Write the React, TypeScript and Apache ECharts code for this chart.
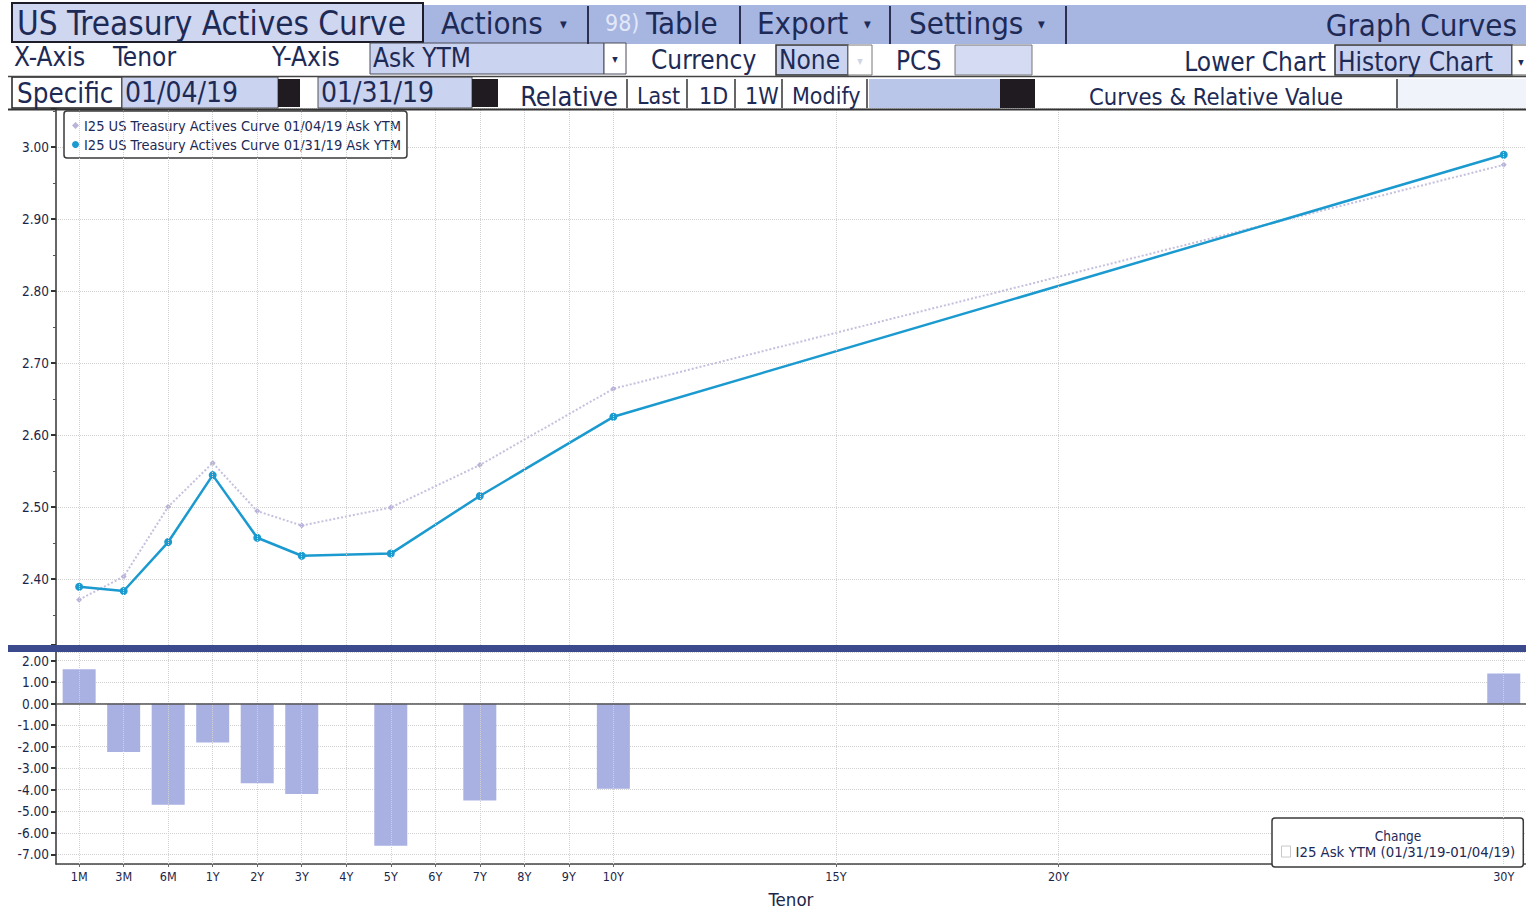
import React, { useEffect, useRef } from "react";
import * as echarts from "echarts";

// ---------- data ----------
const tenorLabels = ["1M", "3M", "6M", "1Y", "2Y", "3Y", "4Y", "5Y", "6Y", "7Y", "8Y", "9Y", "10Y", "15Y", "20Y", "30Y"];
const tenorPositions = [-2, -1, 0, 1, 2, 3, 4, 5, 6, 7, 8, 9, 10, 15, 20, 30];

const curveTenors = ["1M", "3M", "6M", "1Y", "2Y", "3Y", "5Y", "7Y", "10Y", "30Y"];
const curveJan04 = [2.371, 2.403, 2.5, 2.561, 2.494, 2.474, 2.499, 2.558, 2.664, 2.975];
const curveJan31 = [2.389, 2.383, 2.451, 2.544, 2.457, 2.432, 2.435, 2.515, 2.625, 2.989];
const changeBp = [1.6, -2.25, -4.7, -1.8, -3.7, -4.2, -6.6, -4.5, -3.95, 1.4];

const seriesJan04Name = "I25 US Treasury Actives Curve 01/04/19 Ask YTM";
const seriesJan31Name = "I25 US Treasury Actives Curve 01/31/19 Ask YTM";
const changeName = "I25 Ask YTM (01/31/19-01/04/19)";

// ---------- style ----------
const F = '"DejaVu Sans Condensed", "DejaVu Sans", sans-serif';
const NAVY = "#1d2a56";
const LAV = "#cad3ef";

const pos = (t: string) => tenorPositions[tenorLabels.indexOf(t)];

function rect(x: number, y: number, w: number, h: number, fill: string, stroke?: string, lw = 1) {
  return {
    type: "rect",
    silent: true,
    z: 100,
    shape: { x, y, width: w, height: h },
    style: { fill, stroke: stroke || "none", lineWidth: stroke ? lw : 0 },
  };
}
function line(x1: number, y1: number, x2: number, y2: number, stroke: string, lw = 1) {
  return { type: "line", silent: true, z: 101, shape: { x1, y1, x2, y2 }, style: { stroke, lineWidth: lw } };
}
function txt(text: string, x: number, y: number, size: number, align = "left", fill = NAVY) {
  return {
    type: "text",
    silent: true,
    z: 102,
    x,
    y,
    style: { text, fontSize: size, fontFamily: F, fill, align, verticalAlign: "middle" },
  };
}

function toolbar() {
  const g: any[] = [];
  // row 1
  g.push(rect(424, 5, 1102, 39, "#a7b5e1"));
  g.push(rect(12, 3, 411, 39, "#cfd6f0", "#1d1d2a", 2));
  g.push(txt("US Treasury Actives Curve", 17, 23, 33));
  g.push(txt("Actions", 441, 23, 31));
  g.push(txt("▾", 560, 24, 15));
  [588, 740, 890, 1066].forEach((x) => g.push(line(x, 6, x, 44, "#2b3050", 2)));
  g.push(txt("98)", 605, 23, 23, "left", "#e2e8f8"));
  g.push(txt("Table", 646, 23, 31));
  g.push(txt("Export", 757, 23, 31));
  g.push(txt("▾", 864, 24, 15));
  g.push(txt("Settings", 909, 23, 31));
  g.push(txt("▾", 1038, 24, 15));
  g.push(txt("Graph Curves", 1517, 25, 31, "right"));
  // row 2
  g.push(txt("X-Axis", 14, 57, 26));
  g.push(txt("Tenor", 113, 57, 26));
  g.push(txt("Y-Axis", 272, 57, 26));
  g.push(rect(370, 43, 234, 31, LAV, "#4a4a5a", 1));
  g.push(txt("Ask YTM", 373, 58, 26));
  g.push(rect(604, 43, 22, 31, "#ffffff", "#4a4a5a", 1));
  g.push(txt("▾", 615, 59, 12, "center"));
  g.push(txt("Currency", 651, 60, 26));
  g.push(rect(776, 45, 72, 30, LAV, "#333", 1.5));
  g.push(txt("None", 779, 60, 26));
  g.push(rect(848, 45, 24, 30, "#ffffff", "#777", 1));
  g.push(txt("▾", 860, 61, 12, "center", "#cfd4e6"));
  g.push(txt("PCS", 896, 61, 26));
  g.push(rect(955, 45, 77, 30, "#d4dbf2", "#777", 1));
  g.push(txt("Lower Chart", 1326, 62, 26, "right"));
  g.push(rect(1335, 45, 177, 30, LAV, "#333", 1.5));
  g.push(txt("History Chart", 1338, 62, 26));
  g.push(rect(1512, 45, 16, 30, "#ffffff", "#555", 1));
  g.push(txt("▾", 1521, 62, 12, "center"));
  g.push(line(8, 76.5, 1526, 76.5, "#444", 1.5));
  // row 3
  g.push(rect(12, 77, 110, 31, "#ffffff", "#222", 1.5));
  g.push(txt("Specific", 17, 93, 27.5));
  g.push(rect(122, 77, 156, 31, LAV, "#555", 1));
  g.push(txt("01/04/19", 125, 92, 28));
  g.push(rect(278, 79, 22, 28, "#1f1b20"));
  g.push(rect(318, 77, 154, 31, LAV, "#555", 1));
  g.push(txt("01/31/19", 321, 92, 28));
  g.push(rect(472, 79, 26, 28, "#1f1b20"));
  g.push(txt("Relative", 618, 96, 27, "right"));
  [627, 687, 735, 782, 867].forEach((x) => g.push(line(x, 79, x, 108, "#333", 1.5)));
  g.push(txt("Last", 637, 96, 23));
  g.push(txt("1D", 699, 96, 23));
  g.push(txt("1W", 745, 96, 23));
  g.push(txt("Modify", 792, 96, 23));
  g.push(rect(869, 79, 131, 29, "#b9c6ea"));
  g.push(rect(1000, 79, 35, 29, "#1f1b20"));
  g.push(txt("Curves & Relative Value", 1089, 97, 23.6));
  g.push(line(1397, 79, 1397, 108, "#333", 1.5));
  g.push(rect(1398, 79, 128, 29, "#f1f3fa"));
  g.push(line(8, 109.5, 1526, 109.5, "#333", 2));
  return g;
}

export default function App() {
  const ref = useRef<HTMLDivElement>(null);

  useEffect(() => {
    if (!ref.current) return;
    const chart = echarts.init(ref.current, null, { renderer: "svg" });

    const xMin = -2.52;
    const xMax = 30.5;
    const gridLine = { color: "#d2d2d2", type: "dotted" as const, width: 1 };
    const yLabelStyle = { color: "#1c2648", fontSize: 13.5, fontFamily: F };
    const xLabelStyle = { color: "#1c2648", fontSize: 12.5, fontFamily: F };

    const vLines = tenorPositions.map((v) => ({ xAxis: v, lineStyle: gridLine }));

    const option: any = {
      animation: false,
      backgroundColor: "#ffffff",
      textStyle: { fontFamily: F },
      grid: [
        { left: 56, right: 0, top: 108, bottom: 910 - 645 },
        { left: 56, right: 0, top: 652, bottom: 910 - 866 },
      ],
      xAxis: [
        {
          gridIndex: 0,
          type: "value",
          min: xMin,
          max: xMax,
          axisLine: { show: false },
          axisTick: { show: false },
          axisLabel: { show: false },
          splitLine: { show: false },
        },
        {
          gridIndex: 1,
          type: "value",
          min: xMin,
          max: xMax,
          axisLine: { show: true, onZero: false, lineStyle: { color: "#444", width: 1.5 } },
          axisTick: { show: true, customValues: tenorPositions, length: 3, lineStyle: { color: "#666" } },
          axisLabel: {
            ...xLabelStyle,
            margin: 6,
            customValues: tenorPositions,
            formatter: (v: number) => {
              const i = tenorPositions.indexOf(Math.round(v));
              return i >= 0 ? tenorLabels[i] : "";
            },
          },
          splitLine: { show: false },
          name: "Tenor",
          nameLocation: "middle",
          nameGap: 26,
          nameTextStyle: { color: "#1c2648", fontSize: 18.5, fontFamily: F },
        },
      ],
      yAxis: [
        {
          gridIndex: 0,
          type: "value",
          min: 2.308,
          max: 3.054,
          splitNumber: 8,
          axisLine: { show: true, onZero: false, lineStyle: { color: "#333", width: 1.5 } },
          axisTick: { show: true, length: 5, lineStyle: { color: "#333", width: 2 } },
          minorTick: { show: true, splitNumber: 2, length: 3, lineStyle: { color: "#555" } },
          axisLabel: {
            ...yLabelStyle,
            margin: 7,
            showMinLabel: false,
            showMaxLabel: false,
            formatter: (v: number) => v.toFixed(2),
          },
          splitLine: { show: true, lineStyle: gridLine },
        },
        {
          gridIndex: 1,
          type: "value",
          min: -7.45,
          max: 2.4,
          splitNumber: 10,
          axisLine: { show: true, onZero: false, lineStyle: { color: "#333", width: 1.5 } },
          axisTick: { show: true, length: 5, lineStyle: { color: "#333", width: 2 } },
          axisLabel: {
            ...yLabelStyle,
            margin: 7,
            showMinLabel: false,
            showMaxLabel: false,
            formatter: (v: number) => v.toFixed(2),
          },
          splitLine: { show: true, lineStyle: gridLine },
        },
      ],
      legend: [
        {
          left: 64,
          top: 111,
          orient: "vertical",
          backgroundColor: "#ffffff",
          borderColor: "#3a3a3a",
          borderWidth: 1.5,
          borderRadius: 3,
          padding: [7, 6, 6, 8],
          itemGap: 4,
          itemWidth: 7,
          itemHeight: 7,
          textStyle: { color: NAVY, fontSize: 14.5, fontFamily: F },
          data: [
            { name: seriesJan04Name, icon: "diamond" },
            { name: seriesJan31Name, icon: "circle" },
          ],
          selectedMode: false,
        },
        {
          left: 1272,
          top: 818,
          backgroundColor: "#ffffff",
          borderColor: "#3a3a3a",
          borderWidth: 1.5,
          borderRadius: 3,
          padding: [26, 8, 8, 9],
          itemWidth: 9,
          itemHeight: 11,
          itemGap: 4,
          textStyle: { color: NAVY, fontSize: 14.8, fontFamily: F },
          data: [
            {
              name: changeName,
              icon: "rect",
              itemStyle: { color: "#ffffff", borderColor: "#c8c8c8", borderWidth: 1 },
            },
          ],
          selectedMode: false,
        },
      ],
      graphic: [
        ...toolbar(),
        rect(8, 645, 1518, 7, "#3b4a8c"),
        txt("Change", 1398, 836, 13.5, "center"),
      ],
      series: [
        {
          name: seriesJan04Name,
          type: "line",
          xAxisIndex: 0,
          yAxisIndex: 0,
          z: 2,
          data: curveTenors.map((t, i) => [pos(t), curveJan04[i]]),
          symbol: "diamond",
          symbolSize: 6,
          itemStyle: { color: "#b9b4d9" },
          lineStyle: { color: "#c4c0de", width: 2, type: "dotted" },
          markLine: {
            silent: true,
            symbol: ["none", "none"],
            label: { show: false },
            data: vLines,
          },
        },
        {
          name: seriesJan31Name,
          type: "line",
          xAxisIndex: 0,
          yAxisIndex: 0,
          z: 4,
          data: curveTenors.map((t, i) => [pos(t), curveJan31[i]]),
          symbol: "circle",
          symbolSize: 8,
          itemStyle: { color: "#1b9ad0" },
          lineStyle: { color: "#1b9ad0", width: 2.5 },
        },
        {
          name: changeName,
          type: "bar",
          xAxisIndex: 1,
          yAxisIndex: 1,
          barWidth: 33,
          data: curveTenors.map((t, i) => [pos(t), changeBp[i]]),
          itemStyle: { color: "#a9b1e2" },
          markLine: {
            silent: true,
            symbol: ["none", "none"],
            label: { show: false },
            data: [...vLines, { yAxis: 0, lineStyle: { color: "#555", width: 1.5, type: "solid" } }],
          },
        },
      ],
    };

    chart.setOption(option);
    return () => chart.dispose();
  }, []);

  return (
    <div
      ref={ref}
      style={{ position: "absolute", left: 0, top: 0, width: 1526, height: 910, background: "#fff" }}
    />
  );
}
